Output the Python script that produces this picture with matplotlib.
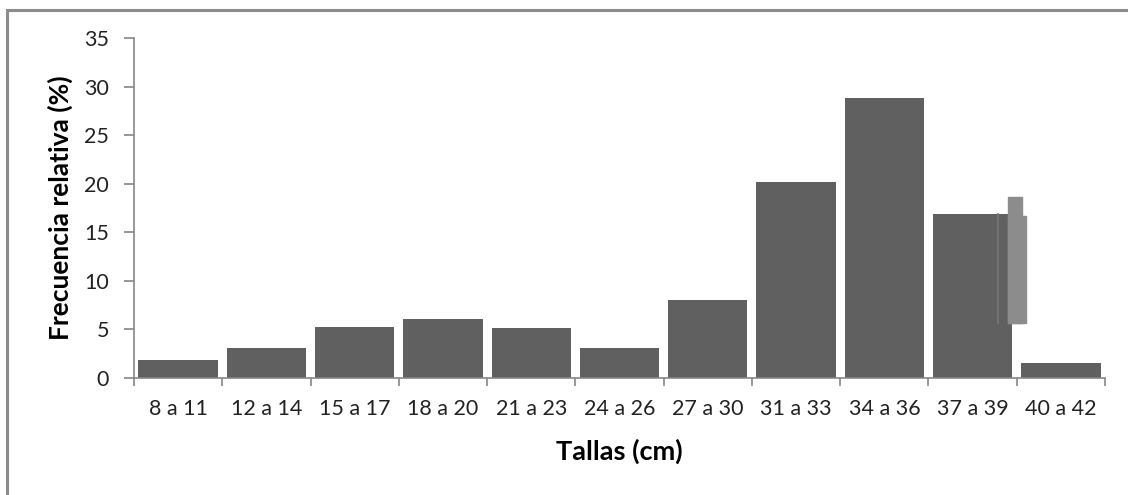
import matplotlib
matplotlib.use("Agg")
import matplotlib.pyplot as plt
from matplotlib.patches import Rectangle

plt.rcParams['font.family'] = ['Lato', 'DejaVu Sans']

tallas = ["8 a 11", "12 a 14", "15 a 17", "18 a 20", "21 a 23", "24 a 26",
          "27 a 30", "31 a 33", "34 a 36", "37 a 39", "40 a 42"]
frecuencia = [1.9, 3.1, 5.3, 6.1, 5.1, 3.1, 8.0, 20.2, 28.8, 16.9, 1.5]

# stray light-grey boxes on the right edge of the 37 a 39 bar: (x0, x1, y0, y1)
cajas = [(9.40, 9.56, 5.66, 18.6), (9.40, 9.61, 5.66, 16.7)]
linea_x, linea_y = 9.29, (5.66, 16.9)

gris_eje = "#868686"

fig = plt.figure(figsize=(11.28, 4.95), dpi=100)
# outer chart frame
fig.patches.append(Rectangle((7 / 1128, -0.1), 1.2, 0.1 + 485 / 495,
                             transform=fig.transFigure, fill=False,
                             edgecolor="#8c8c8c", linewidth=2.2))

ax = fig.add_axes([134 / 1128, 1 - 378 / 495, (1105 - 134) / 1128, 340 / 495])
x = list(range(len(tallas)))
ax.bar(x, frecuencia, width=0.9, color="#606060", zorder=2)

for x0, x1, y0, y1 in cajas:
    ax.add_patch(Rectangle((x0, y0), x1 - x0, y1 - y0, color="#8c8c8c", zorder=3))
ax.plot([linea_x, linea_x], linea_y, color="#777777", linewidth=1.2, zorder=3)

ax.set_xlim(-0.5, len(tallas) - 0.5)
ax.set_ylim(0, 35)
ax.set_yticks(range(0, 36, 5))

ax.set_xticks([i - 0.5 for i in range(len(tallas) + 1)])
ax.set_xticklabels([])
ax.set_xticks(x, minor=True)
ax.set_xticklabels(tallas, minor=True)

for s in ["top", "right"]:
    ax.spines[s].set_visible(False)
for s in ["left", "bottom"]:
    ax.spines[s].set_color(gris_eje)
    ax.spines[s].set_linewidth(1.2)

ax.tick_params(axis="x", which="major", length=6, color=gris_eje, width=1.2)
ax.tick_params(axis="x", which="minor", length=0, pad=15, labelsize=15.5, labelcolor="#222222")
ax.tick_params(axis="y", length=7, color=gris_eje, width=1.2, pad=11,
               labelsize=15.5, labelcolor="#222222")

ax.set_xlabel("Tallas (cm)", fontsize=19.5, fontweight="bold", labelpad=14)
ax.set_ylabel("Frecuencia relativa (%)", fontsize=19, fontweight="bold", labelpad=8)

fig.savefig("out.png", dpi=100)
